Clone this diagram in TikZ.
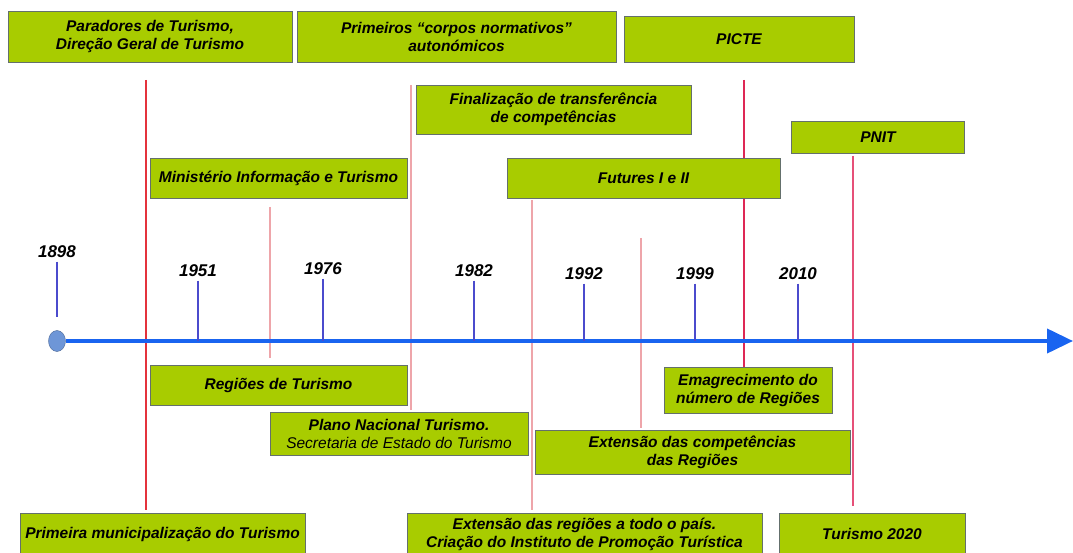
\documentclass[tikz,border=0pt]{standalone}
\usepackage{fontspec}
\setmainfont{Liberation Sans}
\usetikzlibrary{arrows.meta,positioning,shapes.geometric}
\definecolor{caixa}{RGB}{168,204,0}
\definecolor{bordo}{RGB}{100,112,108}
\definecolor{eixoazul}{RGB}{25,100,240}
\definecolor{marcaazul}{RGB}{75,75,205}
\definecolor{vermelho}{RGB}{228,50,60}
\definecolor{rosa}{RGB}{238,165,170}
\definecolor{cereja}{RGB}{222,40,85}
\definecolor{rosaforte}{RGB}{230,80,120}
\definecolor{pontoazul}{RGB}{110,150,215}

\begin{document}
\begin{tikzpicture}[x=1pt,y=-1pt,>=Stealth,
  evento/.style={draw=bordo,line width=0.9pt,fill=caixa,align=center,inner sep=0pt,
    font=\fontsize{15.5}{18}\selectfont\bfseries\itshape},
  ano/.style={font=\fontsize{17}{19}\selectfont\bfseries\itshape},
  marca/.style={draw=marcaazul,line width=1.1pt},
  guia/.style={line width=1.1pt}]
\useasboundingbox (0,0) rectangle (1073,553);

\coordinate (g1a) at (146,80);   \coordinate (g1b) at (146,510);
\coordinate (g2a) at (270,207);  \coordinate (g2b) at (270,358);
\coordinate (g3a) at (411,85);   \coordinate (g3b) at (411,410);
\coordinate (g4a) at (532,200);  \coordinate (g4b) at (532,510);
\coordinate (g5a) at (641,238);  \coordinate (g5b) at (641,428);
\coordinate (g6a) at (744,80);   \coordinate (g6b) at (744,369);
\coordinate (g7a) at (853,156);  \coordinate (g7b) at (853,506);
\draw[guia,draw=vermelho] (g1a) -- (g1b);
\draw[guia,draw=rosa] (g2a) -- (g2b);
\draw[guia,draw=rosa] (g3a) -- (g3b);
\draw[guia,draw=rosa] (g4a) -- (g4b);
\draw[guia,draw=rosa] (g5a) -- (g5b);
\draw[guia,draw=cereja] (g6a) -- (g6b);
\draw[guia,draw=rosaforte] (g7a) -- (g7b);

\node[ellipse,draw=pontoazul!70!black,fill=pontoazul,minimum width=17pt,minimum height=21pt,inner sep=0pt] (inicio) at (57,341) {};
\coordinate (fim) at (1073,341);
\draw[eixoazul,line width=4pt,-{Triangle[length=26pt,width=24pt]}] (inicio.east) -- (fim);

\node[ano] (y1898) at (57,252) {1898};
\draw[marca,shorten >=13pt] (y1898.south) -- (inicio.north);
\foreach \ano/\x/\y in {1951/198/271,1976/323/269,1982/474/271,1992/584/274,1999/695/274,2010/798/274}{
  \node[ano] (y\ano) at (\x,\y) {\ano};
  \draw[marca] (y\ano.south) -- (y\ano.south |- fim);
}

\node[evento,minimum width=284pt,minimum height=51pt] (parad) at (150,36.5) {Paradores de Turismo,\\Direção Geral de Turismo};
\node[evento,minimum width=319pt,minimum height=51pt] (prim) at (456.5,36.5) {Primeiros “corpos normativos”\\autonómicos};
\node[evento,minimum width=230pt,minimum height=46pt] (picte) at (739,39) {PICTE};
\node[evento,minimum width=275pt,minimum height=49pt] (final) at (553.5,109.5) {Finalização de transferência\\de competências};
\node[evento,minimum width=173pt,minimum height=32pt] (pnit) at (878,137) {PNIT};
\node[evento,minimum width=257pt,minimum height=40pt] (minist) at (278.5,178) {Ministério Informação e Turismo};
\node[evento,minimum width=273pt,minimum height=40pt] (futures) at (643.5,178) {Futures I e II};
\node[evento,minimum width=257pt,minimum height=40pt] (regioes) at (278.5,385) {Regiões de Turismo};
\node[evento,minimum width=258pt,minimum height=43pt] (plano) at (399,433.5) {Plano Nacional Turismo.\\{\mdseries Secretaria de Estado do Turismo}};
\node[evento,minimum width=168pt,minimum height=46pt] (emagr) at (748,390) {Emagrecimento do\\número de Regiões};
\node[evento,minimum width=315pt,minimum height=44pt] (extcomp) at (692.5,452) {Extensão das competências\\das Regiões};
\node[evento,minimum width=285pt,minimum height=42pt] (primmun) at (162.5,534) {Primeira municipalização do Turismo};
\node[evento,minimum width=355pt,minimum height=42pt] (extreg) at (584.5,534) {Extensão das regiões a todo o país.\\Criação do Instituto de Promoção Turística};
\node[evento,minimum width=186pt,minimum height=42pt] (tur) at (872,534) {Turismo 2020};
\end{tikzpicture}
\end{document}
